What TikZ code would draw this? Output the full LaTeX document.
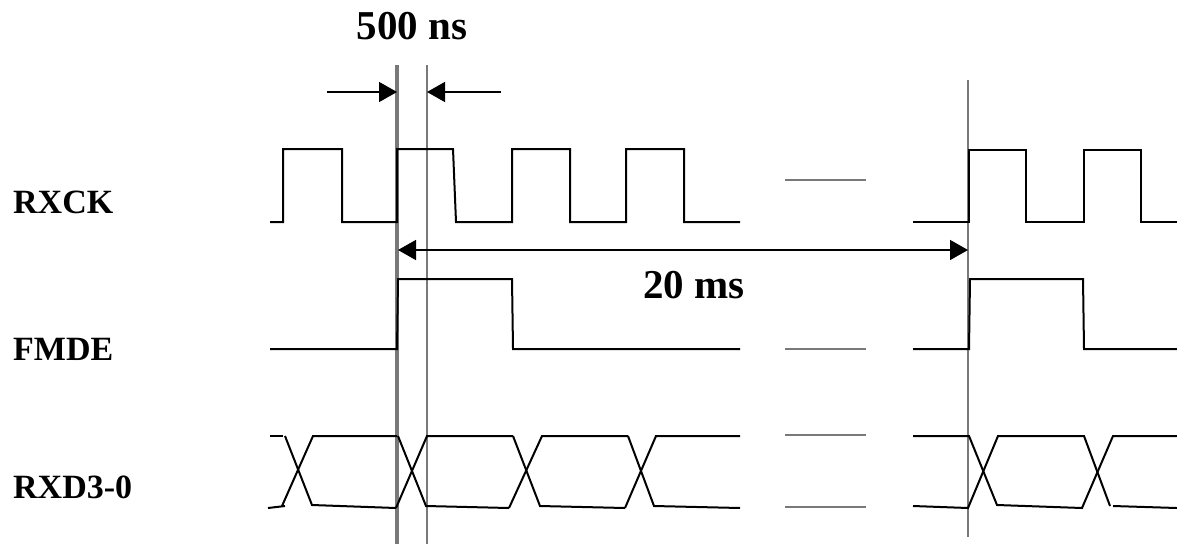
\documentclass[tikz,border=0pt]{standalone}
\usepackage{fontspec}
\setmainfont{Liberation Serif}
\usetikzlibrary{arrows.meta}
\begin{document}
\begin{tikzpicture}[x=1pt,y=-1pt,
  sig/.style={line width=2pt,black,line join=miter},
  guide/.style={draw=gray!95!black,line width=1.4pt},
  guidethick/.style={draw=gray!95!black,line width=3.4pt},
  gap/.style={draw=gray!95!black,line width=2pt},
  dim/.style={line width=1.6pt,-{Triangle[length=18pt,width=20pt]}},
  dimboth/.style={line width=1.6pt,{Triangle[length=18pt,width=20pt]}-{Triangle[length=18pt,width=20pt]}},
  sidelabel/.style={anchor=base west,inner sep=0pt,font=\fontsize{34}{40}\selectfont\bfseries},
  toplabel/.style={anchor=base,inner sep=0pt,font=\fontsize{41}{46}\selectfont\bfseries}]
\useasboundingbox (0,0) rectangle (1177,544);
% guide lines
\coordinate (g1t) at (397,65); \coordinate (g1b) at (397,544);
\coordinate (g2t) at (427,65); \coordinate (g2b) at (427,544);
\coordinate (g3t) at (968,80); \coordinate (g3b) at (968,537);
\draw[guidethick] (g1t) -- (g1b);
\draw[guide] (g2t) -- (g2b);
\draw[guide] (g3t) -- (g3b);
% labels
\node[sidelabel] (lrxck) at (13,213) {RXCK};
\node[sidelabel] (lfmde) at (13,360) {FMDE};
\node[sidelabel] (lrxd) at (13,498) {RXD3-0};
\node[toplabel] (l500) at (412,39) {500 ns};
\node[toplabel] (l20) at (694,298) {20 ms};
% dimension arrows
\coordinate (a1s) at (327,92); \coordinate (a1e) at (397,92);
\coordinate (a2s) at (501,92); \coordinate (a2e) at (427,92);
\coordinate (a3s) at (398,250); \coordinate (a3e) at (968,250);
\draw[dim] (a1s) -- (a1e);
\draw[dim] (a2s) -- (a2e);
\draw[dimboth] (a3s) -- (a3e);
% gap marks
\coordinate (d1s) at (785,180); \coordinate (d1e) at (866,180);
\coordinate (d2s) at (785,349); \coordinate (d2e) at (866,349);
\coordinate (d3s) at (785,435); \coordinate (d3e) at (866,435);
\coordinate (d4s) at (785,507); \coordinate (d4e) at (866,507);
\draw[gap] (d1s) -- (d1e);
\draw[gap] (d2s) -- (d2e);
\draw[gap] (d3s) -- (d3e);
\draw[gap] (d4s) -- (d4e);
% RXCK
\draw[sig] (270,222) -- (283,222) -- (283,149) -- (342,149) -- (342,222) -- (397,222) -- (397,149) -- (453,149) -- (456,222) -- (512,222) -- (512,149) -- (570,149) -- (570,222) -- (626,222) -- (626,149) -- (684,149) -- (684,222) -- (740,222);
\draw[sig] (913,222) -- (969,222) -- (969,150) -- (1026,150) -- (1026,222) -- (1084,222) -- (1084,150) -- (1141,150) -- (1141,222) -- (1177,222);
% FMDE
\draw[sig] (270,349) -- (397,349) -- (398,279) -- (512,279) -- (513,349) -- (740,349);
\draw[sig] (913,349) -- (969,349) -- (970,279) -- (1083,279) -- (1084,349) -- (1177,349);
% RXD3-0
\draw[sig] (270,436) -- (283,436);
\draw[sig] (268,508) -- (285,506);
\draw[sig] (285,436) -- (312,505) -- (396,508);
\draw[sig] (282,506) -- (313,436) -- (397,436);
\draw[sig] (398,436) -- (426,506) -- (509,508);
\draw[sig] (396,508) -- (427,436) -- (513,436);
\draw[sig] (513,436) -- (540,506) -- (625,508);
\draw[sig] (509,508) -- (542,436) -- (628,436);
\draw[sig] (628,436) -- (654,506) -- (740,508);
\draw[sig] (625,508) -- (656,436) -- (740,436);
\draw[sig] (913,436) -- (969,436) -- (997,505) -- (1082,508) -- (1113,436) -- (1177,436);
\draw[sig] (913,506) -- (968,508) -- (998,436) -- (1084,436) -- (1110,506);
\draw[sig] (1113,506) -- (1177,508);
\end{tikzpicture}
\end{document}
